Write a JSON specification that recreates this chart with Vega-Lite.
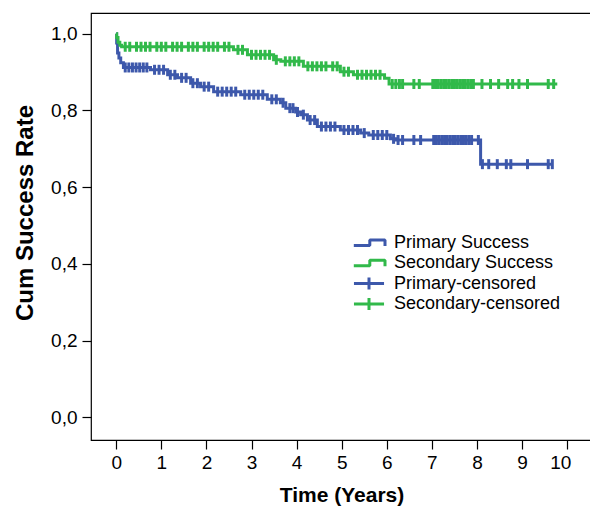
{
  "$schema": "https://vega.github.io/schema/vega-lite/v6.json",
  "width": 501,
  "height": 427,
  "autosize": {"type": "none"},
  "padding": {"left": 91, "top": 13, "right": 0, "bottom": 67},
  "background": "white",
  "config": {
    "view": {"stroke": "black", "strokeWidth": 1.2},
    "font": "Liberation Sans",
    "axis": {"grid": false, "domain": false, "tickColor": "black", "tickSize": 9, "tickWidth": 1.2, "labelColor": "black", "titleColor": "black", "labelFont": "Liberation Sans", "titleFont": "Liberation Sans", "labelFontSize": 19, "titleFontSize": 21, "titleFontWeight": "bold"}
  },
  "datasets": {
    "curves": [
      {"series": "Primary Success", "t": 0, "v": 1.0},
      {"series": "Primary Success", "t": 0.01, "v": 0.976},
      {"series": "Primary Success", "t": 0.03, "v": 0.95},
      {"series": "Primary Success", "t": 0.06, "v": 0.937},
      {"series": "Primary Success", "t": 0.1, "v": 0.924},
      {"series": "Primary Success", "t": 0.16, "v": 0.912},
      {"series": "Primary Success", "t": 0.76, "v": 0.906},
      {"series": "Primary Success", "t": 1.14, "v": 0.893},
      {"series": "Primary Success", "t": 1.36, "v": 0.885},
      {"series": "Primary Success", "t": 1.65, "v": 0.871},
      {"series": "Primary Success", "t": 1.87, "v": 0.862},
      {"series": "Primary Success", "t": 2.16, "v": 0.849},
      {"series": "Primary Success", "t": 2.76, "v": 0.841},
      {"series": "Primary Success", "t": 3.35, "v": 0.829},
      {"series": "Primary Success", "t": 3.64, "v": 0.82},
      {"series": "Primary Success", "t": 3.76, "v": 0.806},
      {"series": "Primary Success", "t": 3.98, "v": 0.796},
      {"series": "Primary Success", "t": 4.09, "v": 0.789},
      {"series": "Primary Success", "t": 4.24, "v": 0.775},
      {"series": "Primary Success", "t": 4.46, "v": 0.758},
      {"series": "Primary Success", "t": 4.97, "v": 0.749},
      {"series": "Primary Success", "t": 5.42, "v": 0.741},
      {"series": "Primary Success", "t": 5.6, "v": 0.736},
      {"series": "Primary Success", "t": 6.08, "v": 0.726},
      {"series": "Primary Success", "t": 6.2, "v": 0.723},
      {"series": "Primary Success", "t": 8.08, "v": 0.66},
      {"series": "Primary Success", "t": 9.67, "v": 0.66},
      {"series": "Secondary Success", "t": 0, "v": 1.0},
      {"series": "Secondary Success", "t": 0.01, "v": 0.99},
      {"series": "Secondary Success", "t": 0.04, "v": 0.978},
      {"series": "Secondary Success", "t": 0.08, "v": 0.97},
      {"series": "Secondary Success", "t": 0.12, "v": 0.966},
      {"series": "Secondary Success", "t": 2.6, "v": 0.958},
      {"series": "Secondary Success", "t": 2.91, "v": 0.945},
      {"series": "Secondary Success", "t": 3.49, "v": 0.932},
      {"series": "Secondary Success", "t": 3.65, "v": 0.928},
      {"series": "Secondary Success", "t": 4.15, "v": 0.915},
      {"series": "Secondary Success", "t": 4.97, "v": 0.901},
      {"series": "Secondary Success", "t": 5.26, "v": 0.893},
      {"series": "Secondary Success", "t": 5.95, "v": 0.884},
      {"series": "Secondary Success", "t": 6.05, "v": 0.869},
      {"series": "Secondary Success", "t": 9.78, "v": 0.869}
    ],
    "censored": [
      {"series": "Primary-censored", "t": 0.2, "v": 0.912},
      {"series": "Primary-censored", "t": 0.28, "v": 0.912},
      {"series": "Primary-censored", "t": 0.36, "v": 0.912},
      {"series": "Primary-censored", "t": 0.44, "v": 0.912},
      {"series": "Primary-censored", "t": 0.52, "v": 0.912},
      {"series": "Primary-censored", "t": 0.6, "v": 0.912},
      {"series": "Primary-censored", "t": 0.68, "v": 0.912},
      {"series": "Primary-censored", "t": 0.85, "v": 0.906},
      {"series": "Primary-censored", "t": 0.95, "v": 0.906},
      {"series": "Primary-censored", "t": 1.05, "v": 0.906},
      {"series": "Primary-censored", "t": 1.2, "v": 0.893},
      {"series": "Primary-censored", "t": 1.3, "v": 0.893},
      {"series": "Primary-censored", "t": 1.45, "v": 0.885},
      {"series": "Primary-censored", "t": 1.55, "v": 0.885},
      {"series": "Primary-censored", "t": 1.7, "v": 0.871},
      {"series": "Primary-censored", "t": 1.8, "v": 0.871},
      {"series": "Primary-censored", "t": 1.95, "v": 0.862},
      {"series": "Primary-censored", "t": 2.05, "v": 0.862},
      {"series": "Primary-censored", "t": 2.25, "v": 0.849},
      {"series": "Primary-censored", "t": 2.35, "v": 0.849},
      {"series": "Primary-censored", "t": 2.45, "v": 0.849},
      {"series": "Primary-censored", "t": 2.55, "v": 0.849},
      {"series": "Primary-censored", "t": 2.65, "v": 0.849},
      {"series": "Primary-censored", "t": 2.85, "v": 0.841},
      {"series": "Primary-censored", "t": 2.95, "v": 0.841},
      {"series": "Primary-censored", "t": 3.05, "v": 0.841},
      {"series": "Primary-censored", "t": 3.15, "v": 0.841},
      {"series": "Primary-censored", "t": 3.25, "v": 0.841},
      {"series": "Primary-censored", "t": 3.45, "v": 0.829},
      {"series": "Primary-censored", "t": 3.55, "v": 0.829},
      {"series": "Primary-censored", "t": 3.7, "v": 0.82},
      {"series": "Primary-censored", "t": 3.85, "v": 0.806},
      {"series": "Primary-censored", "t": 3.92, "v": 0.806},
      {"series": "Primary-censored", "t": 4.02, "v": 0.796},
      {"series": "Primary-censored", "t": 4.15, "v": 0.789},
      {"series": "Primary-censored", "t": 4.3, "v": 0.775},
      {"series": "Primary-censored", "t": 4.4, "v": 0.775},
      {"series": "Primary-censored", "t": 4.55, "v": 0.758},
      {"series": "Primary-censored", "t": 4.65, "v": 0.758},
      {"series": "Primary-censored", "t": 4.75, "v": 0.758},
      {"series": "Primary-censored", "t": 4.85, "v": 0.758},
      {"series": "Primary-censored", "t": 5.05, "v": 0.749},
      {"series": "Primary-censored", "t": 5.15, "v": 0.749},
      {"series": "Primary-censored", "t": 5.25, "v": 0.749},
      {"series": "Primary-censored", "t": 5.35, "v": 0.749},
      {"series": "Primary-censored", "t": 5.5, "v": 0.741},
      {"series": "Primary-censored", "t": 5.7, "v": 0.736},
      {"series": "Primary-censored", "t": 5.8, "v": 0.736},
      {"series": "Primary-censored", "t": 5.9, "v": 0.736},
      {"series": "Primary-censored", "t": 6.0, "v": 0.736},
      {"series": "Primary-censored", "t": 6.15, "v": 0.726},
      {"series": "Primary-censored", "t": 6.25, "v": 0.723},
      {"series": "Primary-censored", "t": 6.35, "v": 0.723},
      {"series": "Primary-censored", "t": 6.6, "v": 0.723},
      {"series": "Primary-censored", "t": 6.75, "v": 0.723},
      {"series": "Primary-censored", "t": 7.04, "v": 0.723},
      {"series": "Primary-censored", "t": 7.1, "v": 0.723},
      {"series": "Primary-censored", "t": 7.16, "v": 0.723},
      {"series": "Primary-censored", "t": 7.22, "v": 0.723},
      {"series": "Primary-censored", "t": 7.28, "v": 0.723},
      {"series": "Primary-censored", "t": 7.34, "v": 0.723},
      {"series": "Primary-censored", "t": 7.4, "v": 0.723},
      {"series": "Primary-censored", "t": 7.46, "v": 0.723},
      {"series": "Primary-censored", "t": 7.52, "v": 0.723},
      {"series": "Primary-censored", "t": 7.58, "v": 0.723},
      {"series": "Primary-censored", "t": 7.64, "v": 0.723},
      {"series": "Primary-censored", "t": 7.7, "v": 0.723},
      {"series": "Primary-censored", "t": 7.76, "v": 0.723},
      {"series": "Primary-censored", "t": 7.82, "v": 0.723},
      {"series": "Primary-censored", "t": 7.88, "v": 0.723},
      {"series": "Primary-censored", "t": 8.03, "v": 0.723},
      {"series": "Primary-censored", "t": 8.12, "v": 0.66},
      {"series": "Primary-censored", "t": 8.26, "v": 0.66},
      {"series": "Primary-censored", "t": 8.45, "v": 0.66},
      {"series": "Primary-censored", "t": 8.65, "v": 0.66},
      {"series": "Primary-censored", "t": 8.75, "v": 0.66},
      {"series": "Primary-censored", "t": 9.12, "v": 0.66},
      {"series": "Primary-censored", "t": 9.58, "v": 0.66},
      {"series": "Primary-censored", "t": 9.67, "v": 0.66},
      {"series": "Secondary-censored", "t": 0.2, "v": 0.966},
      {"series": "Secondary-censored", "t": 0.3, "v": 0.966},
      {"series": "Secondary-censored", "t": 0.45, "v": 0.966},
      {"series": "Secondary-censored", "t": 0.55, "v": 0.966},
      {"series": "Secondary-censored", "t": 0.65, "v": 0.966},
      {"series": "Secondary-censored", "t": 0.75, "v": 0.966},
      {"series": "Secondary-censored", "t": 0.9, "v": 0.966},
      {"series": "Secondary-censored", "t": 1.0, "v": 0.966},
      {"series": "Secondary-censored", "t": 1.1, "v": 0.966},
      {"series": "Secondary-censored", "t": 1.25, "v": 0.966},
      {"series": "Secondary-censored", "t": 1.35, "v": 0.966},
      {"series": "Secondary-censored", "t": 1.45, "v": 0.966},
      {"series": "Secondary-censored", "t": 1.6, "v": 0.966},
      {"series": "Secondary-censored", "t": 1.7, "v": 0.966},
      {"series": "Secondary-censored", "t": 1.8, "v": 0.966},
      {"series": "Secondary-censored", "t": 1.95, "v": 0.966},
      {"series": "Secondary-censored", "t": 2.05, "v": 0.966},
      {"series": "Secondary-censored", "t": 2.15, "v": 0.966},
      {"series": "Secondary-censored", "t": 2.25, "v": 0.966},
      {"series": "Secondary-censored", "t": 2.4, "v": 0.966},
      {"series": "Secondary-censored", "t": 2.5, "v": 0.966},
      {"series": "Secondary-censored", "t": 2.7, "v": 0.958},
      {"series": "Secondary-censored", "t": 2.8, "v": 0.958},
      {"series": "Secondary-censored", "t": 3.0, "v": 0.945},
      {"series": "Secondary-censored", "t": 3.1, "v": 0.945},
      {"series": "Secondary-censored", "t": 3.2, "v": 0.945},
      {"series": "Secondary-censored", "t": 3.3, "v": 0.945},
      {"series": "Secondary-censored", "t": 3.4, "v": 0.945},
      {"series": "Secondary-censored", "t": 3.55, "v": 0.932},
      {"series": "Secondary-censored", "t": 3.75, "v": 0.928},
      {"series": "Secondary-censored", "t": 3.85, "v": 0.928},
      {"series": "Secondary-censored", "t": 3.95, "v": 0.928},
      {"series": "Secondary-censored", "t": 4.05, "v": 0.928},
      {"series": "Secondary-censored", "t": 4.25, "v": 0.915},
      {"series": "Secondary-censored", "t": 4.35, "v": 0.915},
      {"series": "Secondary-censored", "t": 4.45, "v": 0.915},
      {"series": "Secondary-censored", "t": 4.55, "v": 0.915},
      {"series": "Secondary-censored", "t": 4.65, "v": 0.915},
      {"series": "Secondary-censored", "t": 4.8, "v": 0.915},
      {"series": "Secondary-censored", "t": 4.9, "v": 0.915},
      {"series": "Secondary-censored", "t": 5.05, "v": 0.901},
      {"series": "Secondary-censored", "t": 5.15, "v": 0.901},
      {"series": "Secondary-censored", "t": 5.35, "v": 0.893},
      {"series": "Secondary-censored", "t": 5.45, "v": 0.893},
      {"series": "Secondary-censored", "t": 5.55, "v": 0.893},
      {"series": "Secondary-censored", "t": 5.65, "v": 0.893},
      {"series": "Secondary-censored", "t": 5.75, "v": 0.893},
      {"series": "Secondary-censored", "t": 5.85, "v": 0.893},
      {"series": "Secondary-censored", "t": 6.12, "v": 0.869},
      {"series": "Secondary-censored", "t": 6.2, "v": 0.869},
      {"series": "Secondary-censored", "t": 6.28, "v": 0.869},
      {"series": "Secondary-censored", "t": 6.35, "v": 0.869},
      {"series": "Secondary-censored", "t": 6.6, "v": 0.869},
      {"series": "Secondary-censored", "t": 6.72, "v": 0.869},
      {"series": "Secondary-censored", "t": 7.02, "v": 0.869},
      {"series": "Secondary-censored", "t": 7.08, "v": 0.869},
      {"series": "Secondary-censored", "t": 7.14, "v": 0.869},
      {"series": "Secondary-censored", "t": 7.2, "v": 0.869},
      {"series": "Secondary-censored", "t": 7.26, "v": 0.869},
      {"series": "Secondary-censored", "t": 7.32, "v": 0.869},
      {"series": "Secondary-censored", "t": 7.38, "v": 0.869},
      {"series": "Secondary-censored", "t": 7.44, "v": 0.869},
      {"series": "Secondary-censored", "t": 7.5, "v": 0.869},
      {"series": "Secondary-censored", "t": 7.56, "v": 0.869},
      {"series": "Secondary-censored", "t": 7.62, "v": 0.869},
      {"series": "Secondary-censored", "t": 7.68, "v": 0.869},
      {"series": "Secondary-censored", "t": 7.74, "v": 0.869},
      {"series": "Secondary-censored", "t": 7.8, "v": 0.869},
      {"series": "Secondary-censored", "t": 7.86, "v": 0.869},
      {"series": "Secondary-censored", "t": 7.92, "v": 0.869},
      {"series": "Secondary-censored", "t": 8.11, "v": 0.869},
      {"series": "Secondary-censored", "t": 8.3, "v": 0.869},
      {"series": "Secondary-censored", "t": 8.48, "v": 0.869},
      {"series": "Secondary-censored", "t": 8.68, "v": 0.869},
      {"series": "Secondary-censored", "t": 8.79, "v": 0.869},
      {"series": "Secondary-censored", "t": 8.93, "v": 0.869},
      {"series": "Secondary-censored", "t": 9.12, "v": 0.869},
      {"series": "Secondary-censored", "t": 9.58, "v": 0.869},
      {"series": "Secondary-censored", "t": 9.7, "v": 0.869}
    ]
  },
  "encoding": {
    "x": {
      "field": "t", "type": "quantitative",
      "scale": {"domain": [-0.559, 10.55], "nice": false, "zero": false},
      "axis": {"values": [0, 1, 2, 3, 4, 5, 6, 7, 8, 9, 10], "title": "Time (Years)", "labelPadding": 4, "labelOffset": {"condition": {"test": "datum.value == 10", "value": -7}, "value": 0}, "titleY": 61, "titleBaseline": "alphabetic"}
    },
    "y": {
      "field": "v", "type": "quantitative",
      "scale": {"domain": [-0.059, 1.054], "nice": false, "zero": false},
      "axis": {"values": [0, 0.2, 0.4, 0.6, 0.8, 1.0], "labelExpr": "replace(format(datum.value, '.1f'), '.', ',')", "title": "Cum Success Rate", "labelPadding": 5, "titleX": -59, "titleY": 199.5, "titleAngle": -90, "titleBaseline": "alphabetic", "titleAlign": "center", "titleFontSize": 24}
    },
    "color": {
      "field": "series", "type": "nominal",
      "scale": {"domain": ["Primary Success", "Secondary Success", "Primary-censored", "Secondary-censored"], "range": ["#3d58ab", "#31b94a", "#3d58ab", "#31b94a"]},
      "legend": {
        "orient": "none", "legendX": 269, "legendY": 221, "title": null, "padding": 0,
        "labelFontSize": 18, "labelColor": "black", "labelFont": "Liberation Sans", "labelOffset": 16, "labelLimit": 0,
        "symbolSize": 64, "symbolStrokeWidth": 3, "rowPadding": 2.3, "gridAlign": "all",
        "encode": {"symbols": {"update": {
          "shape": {"signal": "indexof(datum.label, 'censored') >= 0 ? 'M-3.76,0H3.76M0,-1.5V1.5' : 'M-3.8,0.64H0.2V-0.76H4V0.76'"},
          "fill": {"value": "transparent"},
          "strokeWidth": {"value": 3},
          "strokeJoin": {"value": "bevel"},
          "opacity": {"value": 1}
        }}}
      }
    }
  },
  "layer": [
    {"data": {"name": "curves"}, "mark": {"type": "line", "interpolate": "step-after", "strokeWidth": 3}},
    {"data": {"name": "censored"}, "mark": {"type": "point", "shape": "M0,-1V1", "size": 100, "strokeWidth": 3, "filled": false, "opacity": 1}}
  ]
}
